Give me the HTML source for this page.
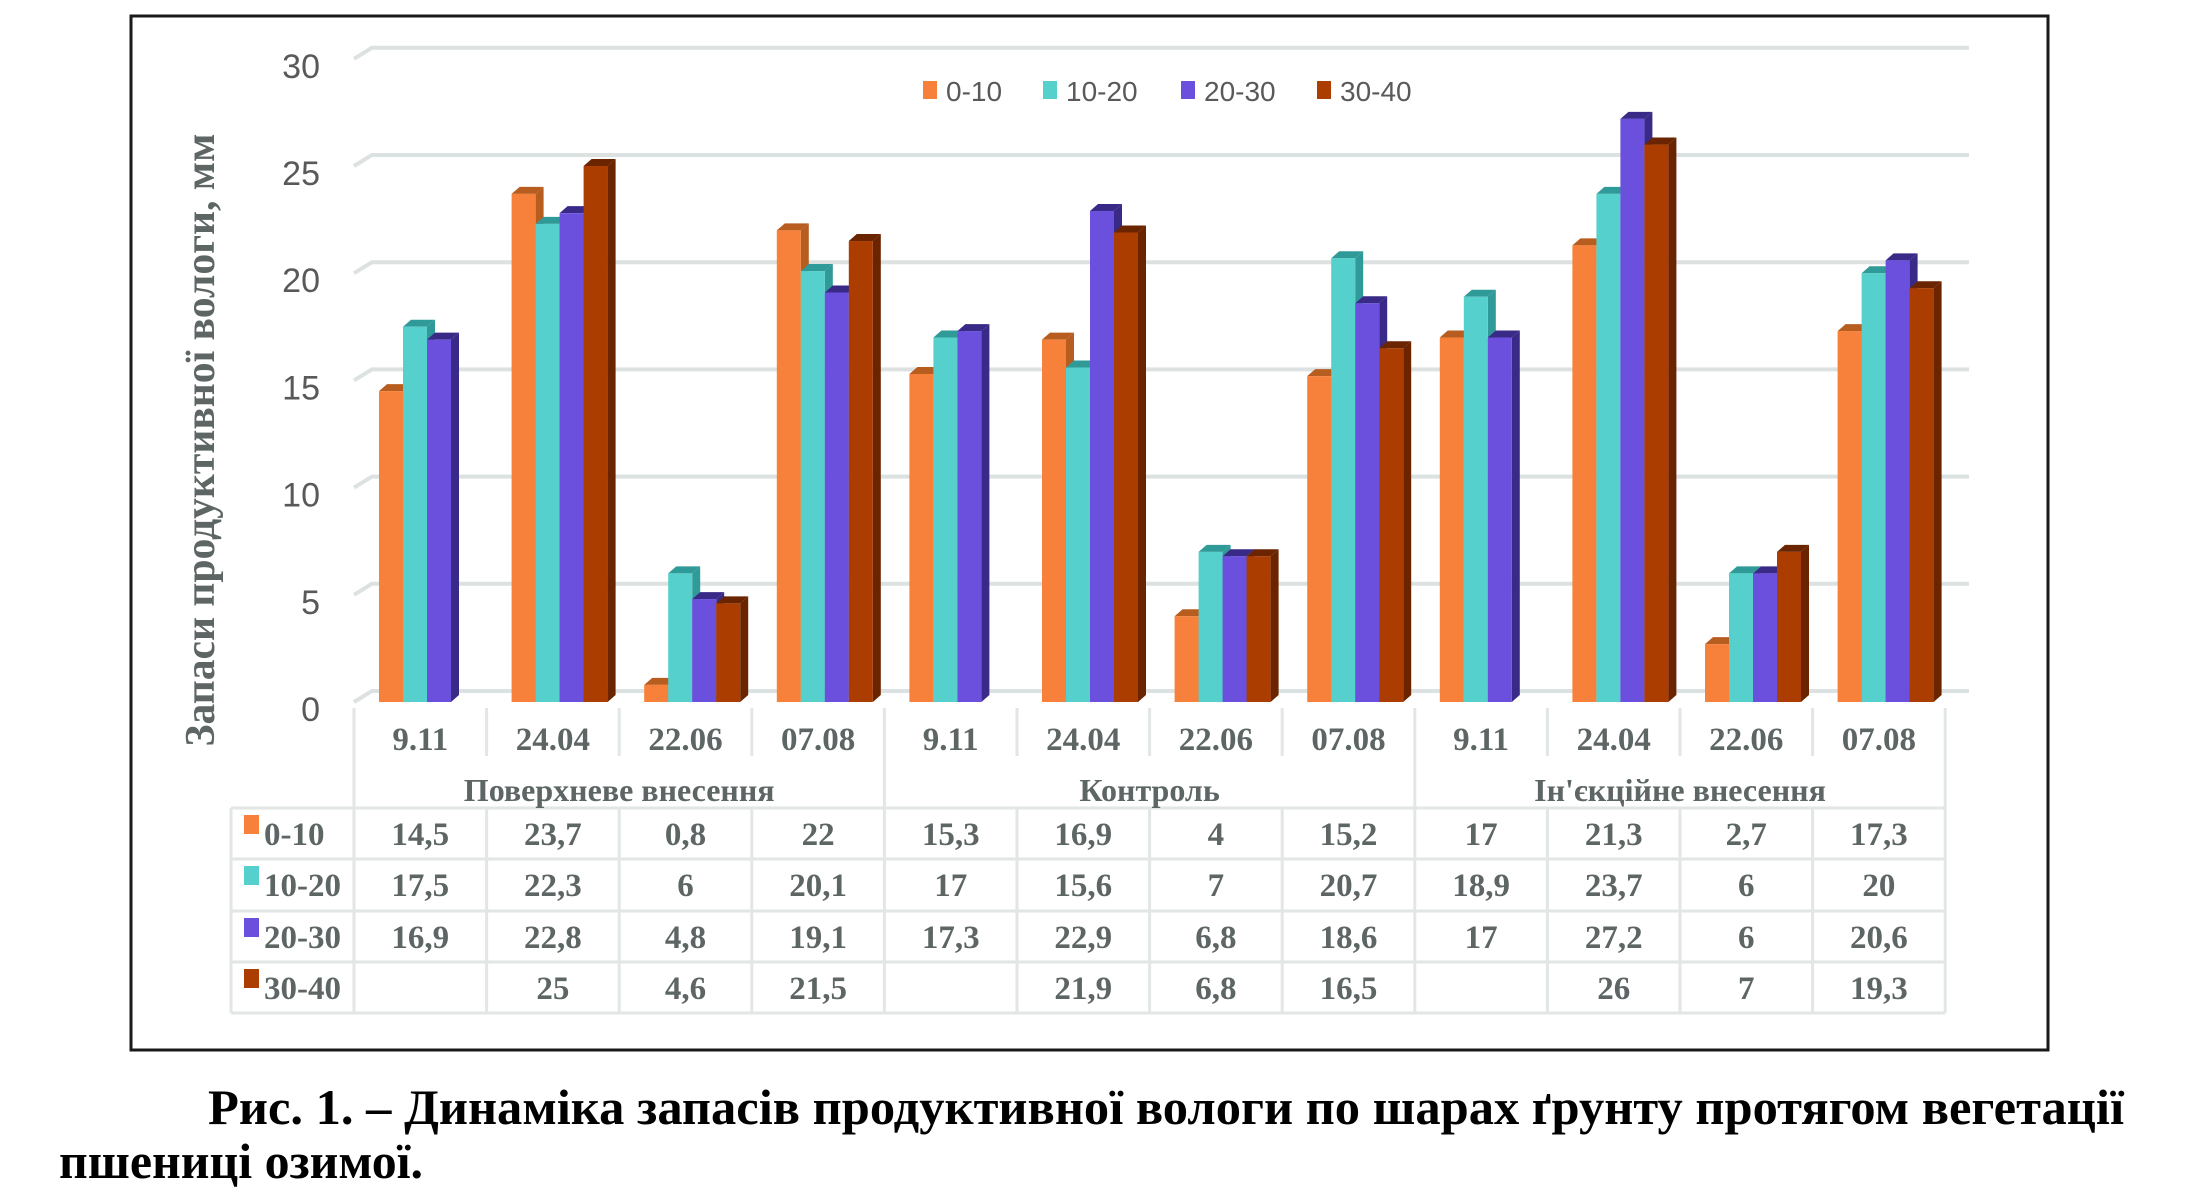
<!DOCTYPE html>
<html><head><meta charset="utf-8"><style>
html,body{margin:0;padding:0;background:#fff;width:2198px;height:1204px;overflow:hidden}
svg{display:block}
</style></head><body>
<svg id="chart" width="2198" height="1204" viewBox="0 0 2198 1204" xmlns="http://www.w3.org/2000/svg">
<rect x="131" y="16" width="1917" height="1034" fill="#fff" stroke="#1a1a1a" stroke-width="3"/>
<g id="grid"></g>
<g id="yticks"></g>
<g id="bars"></g>
<g id="table"></g>
<text transform="translate(214,440) rotate(-90)" text-anchor="middle" textLength="613" lengthAdjust="spacingAndGlyphs" font-family="Liberation Serif, serif" font-weight="bold" font-size="42" fill="#5d6565">Запаси продуктивної вологи, мм</text>
<g id="legend"></g>
<text x="208" y="1124" textLength="1916" lengthAdjust="spacingAndGlyphs" font-family="Liberation Serif, serif" font-weight="bold" font-size="50" fill="#000">Рис. 1. – Динаміка запасів продуктивної вологи по шарах ґрунту протягом вегетації</text>
<text x="59" y="1178" textLength="364" lengthAdjust="spacingAndGlyphs" font-family="Liberation Serif, serif" font-weight="bold" font-size="50" fill="#000">пшениці озимої.</text>
</svg>
<script>
const categories = ["9.11","24.04","22.06","07.08","9.11","24.04","22.06","07.08","9.11","24.04","22.06","07.08"];
const groups = ["Поверхневе внесення","Контроль","Ін'єкційне внесення"];
const seriesNames = ["0-10","10-20","20-30","30-40"];
const s0_10 = [14.5,23.7,0.8,22,15.3,16.9,4,15.2,17,21.3,2.7,17.3];
const s10_20 = [17.5,22.3,6,20.1,17,15.6,7,20.7,18.9,23.7,6,20];
const s20_30 = [16.9,22.8,4.8,19.1,17.3,22.9,6.8,18.6,17,27.2,6,20.6];
const s30_40 = [null,25,4.6,21.5,null,21.9,6.8,16.5,null,26,7,19.3];
const yTicks = [0,5,10,15,20,25,30];

const series = [s0_10,s10_20,s20_30,s30_40];
const front = ["#f7813a","#55d0cc","#6a50dc","#ab3d00"];
const side = ["#b85d20","#2f9a98","#3a2a88","#6a2400"];
const NS = "http://www.w3.org/2000/svg";
function mk(tag, attrs, parent){const e=document.createElementNS(NS,tag);for(const k in attrs)e.setAttribute(k,attrs[k]);parent.appendChild(e);return e;}
const Y0=702, PU=21.44;
function yF(v){return Y0 - v*PU;}
const CELL0=354, STEP=132.6, BW=24, DX=8, DY=7;
function xCell(i){return CELL0 + i*STEP;}

const grid=document.getElementById('grid');
yTicks.forEach(t=>{
  const y=yF(t);
  const l=mk('path',{d:`M354 ${y} L372 ${y-11} L1969 ${y-11}`,fill:'none',stroke:'#dce2e1','stroke-width':4},grid);
  
  
});
const yt=document.getElementById('yticks');
yTicks.forEach(t=>{
  const tx=mk('text',{x:320,y:yF(t)+19,'text-anchor':'end','font-family':'Liberation Sans, sans-serif','font-size':34,fill:'#595959'},yt);
  tx.textContent=t;
  
  
});

const bars=document.getElementById('bars');
categories.forEach((c,i)=>{
  series.forEach((s,k)=>{
    const v=s[i]; if(v==null) return;
    const x=xCell(i)+25+k*BW, top=yF(v), bot=Y0;
    const g=mk('g',{},bars);
    
    
    mk('polygon',{points:`${x+BW},${top} ${x+BW+DX},${top-DY} ${x+BW+DX},${bot-DY} ${x+BW},${bot}`,fill:side[k]},g);
    mk('polygon',{points:`${x},${top} ${x+DX},${top-DY} ${x+BW+DX},${top-DY} ${x+BW},${top}`,fill:side[k]},g);
    mk('rect',{x:x,y:top,width:BW,height:bot-top,fill:front[k]},g);
  });
});

const tb=document.getElementById('table');
const LC='#e2e6e5', TF='Liberation Serif, serif', TC='#5d6565';
const xEnd=xCell(12);
for(let i=0;i<=12;i++){
  const x=xCell(i);
  const l=mk('line',{x1:x,y1:708,x2:x,y2:(i%4===0)?1013:756,stroke:LC,'stroke-width':3},tb);
  
  
  if(i%4!==0){const l2=mk('line',{x1:x,y1:808,x2:x,y2:1013,stroke:LC,'stroke-width':3},tb);
    
    }
}
mk('line',{x1:231,y1:808,x2:231,y2:1013,stroke:LC,'stroke-width':3},tb);
[808,859,911,962,1013].forEach(y=>{
  const l=mk('line',{x1:231,y1:y,x2:xEnd,y2:y,stroke:LC,'stroke-width':3},tb);
  
  
});
categories.forEach((c,i)=>{
  const t=mk('text',{x:xCell(i)+STEP/2,y:750,'text-anchor':'middle','font-family':TF,'font-weight':'bold','font-size':33,fill:TC},tb);
  t.textContent=c;
  
  
});
groups.forEach((gname,j)=>{
  const t=mk('text',{x:xCell(j*4)+2*STEP,y:801,'text-anchor':'middle','font-family':TF,'font-weight':'bold','font-size':32,fill:TC},tb);
  t.textContent=gname;
  
  
});
const rowY=[834,885,937,988];
series.forEach((s,k)=>{
  const y=rowY[k];
  const sq=mk('rect',{x:244,y:y-19,width:15,height:19,fill:front[k]},tb);
  
  
  const lt=mk('text',{x:264,y:y+11,'font-family':TF,'font-weight':'bold','font-size':33,fill:TC},tb);
  lt.textContent=seriesNames[k];
  
  
  s.forEach((v,i)=>{
    if(v==null) return;
    const t=mk('text',{x:xCell(i)+STEP/2,y:y+11,'text-anchor':'middle','font-family':TF,'font-weight':'bold','font-size':33,fill:TC},tb);
    t.textContent=String(v).replace('.',',');
    
    
  });
});

const lg=document.getElementById('legend');
const lx=[923,1043,1181,1317];
seriesNames.forEach((n,k)=>{
  const g=mk('g',{},lg);
  
  
  mk('rect',{x:lx[k],y:81,width:14,height:18,fill:front[k]},g);
  const t=mk('text',{x:lx[k]+23,y:101,'font-family':'Liberation Sans, sans-serif','font-size':28,fill:'#595959'},g);
  t.textContent=n;
});
</script>
</body></html>
